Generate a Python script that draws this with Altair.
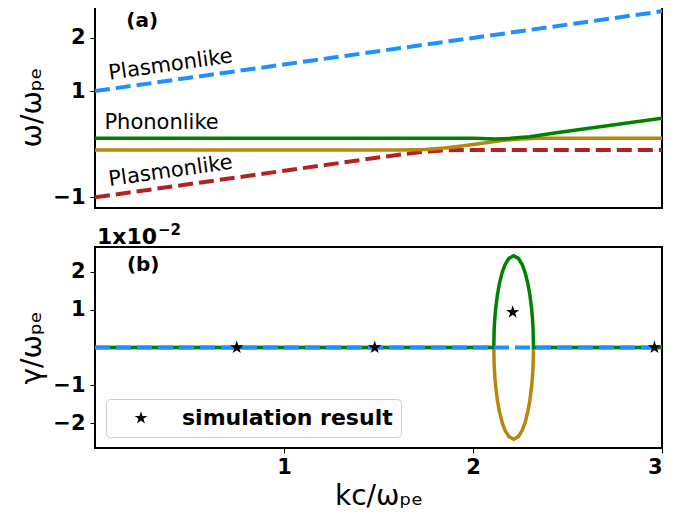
import altair as alt
import pandas as pd

# ---------------- Panel (a): real frequency ----------------
k_blue = [0.0, 3.0]
w_blue = [1.0, 2.5]

k_red = [0.0, 1.5, 1.65, 1.75, 1.85, 1.95, 3.0]
w_red = [-1.0, -0.25, -0.18, -0.14, -0.115, -0.11, -0.11]

k_gold = [0.0, 1.6, 1.75, 1.85, 1.95, 2.05, 2.15, 2.25, 2.35, 3.0]
w_gold = [-0.11, -0.11, -0.10, -0.07, -0.03, 0.02, 0.07, 0.10, 0.11, 0.11]

k_green = [0.0, 2.0, 2.12, 2.2, 2.3, 2.45, 3.0]
w_green = [0.11, 0.11, 0.10, 0.11, 0.14, 0.22, 0.49]

# ---------------- Panel (b): growth rate (x1e-2) ----------------
k_gamma = [0.0, 2.11, 2.112, 2.115, 2.12, 2.13, 2.14, 2.155, 2.17, 2.19, 2.215,
           2.24, 2.26, 2.275, 2.29, 2.30, 2.31, 2.315, 2.318, 2.32, 3.0]
g_green = [0.0, 0.0, 0.47, 0.74, 1.03, 1.42, 1.69, 1.99, 2.19, 2.35, 2.42,
           2.35, 2.19, 1.99, 1.69, 1.42, 1.03, 0.74, 0.47, 0.0, 0.0]
g_gold = [0.0, 0.0, -0.47, -0.74, -1.03, -1.42, -1.69, -1.99, -2.19, -2.35, -2.42,
          -2.35, -2.19, -1.99, -1.69, -1.42, -1.03, -0.74, -0.47, 0.0, 0.0]
k_blue_b = [0.0, 3.0]
g_blue_b = [0.0, 0.0]

k_sim = [0.75, 1.48, 2.21, 2.96]
g_sim = [0.0, 0.0, 0.93, 0.0]
sim_label = ["simulation result"] * 4

STAR = ("M0,-1L0.2245,-0.309L0.9511,-0.309L0.3633,0.118L0.5878,0.809L0,0.382"
        "L-0.5878,0.809L-0.3633,0.118L-0.9511,-0.309L-0.2245,-0.309Z")

BLUE = "#1E90FF"
RED = "#B22222"
GREEN = "#008000"
GOLD = "#B8860B"

W = 567
H_TOP = 202
H_BOT = 201

x_scale = alt.Scale(domain=[0, 3], nice=False, zero=False)
ya_scale = alt.Scale(domain=[-1.2, 2.6], nice=False, zero=False)
yb_scale = alt.Scale(domain=[-2.65, 2.65], nice=False, zero=False)


def line(k, v, color, ys, xax, yax, dash=None, width=3.5):
    df = pd.DataFrame({"k": k, "v": v})
    kw = dict(color=color, strokeWidth=width, clip=True)
    if dash:
        kw["strokeDash"] = dash
    return alt.Chart(df).mark_line(**kw).encode(
        x=alt.X("k:Q", scale=x_scale, axis=xax),
        y=alt.Y("v:Q", scale=ys, axis=yax),
    )


def label(k, v, txt, size, ys, xax, yax, weight="normal", angle=0, align="center",
          baseline="middle", dx=0, dy=0):
    df = pd.DataFrame({"k": [k], "v": [v], "t": [txt]})
    kw = dict(fontSize=size, fontWeight=weight, align=align, baseline=baseline,
              color="black", font="DejaVu Sans", dx=dx, dy=dy)
    if angle:
        kw["angle"] = angle
    return alt.Chart(df).mark_text(**kw).encode(
        x=alt.X("k:Q", scale=x_scale, axis=xax),
        y=alt.Y("v:Q", scale=ys, axis=yax),
        text="t:N")


ya_axis = alt.Axis(values=[-1, 1, 2], format="d", title="ω/ωₚₑ")

top = alt.layer(
    line(k_blue, w_blue, BLUE, ya_scale, None, ya_axis, dash=[15, 6], width=4),
    line(k_red, w_red, RED, ya_scale, None, ya_axis, dash=[15, 6], width=4),
    line(k_gold, w_gold, GOLD, ya_scale, None, ya_axis),
    line(k_green, w_green, GREEN, ya_scale, None, ya_axis),
    label(0.25, 2.32, "(a)", 20, ya_scale, None, ya_axis, weight="bold"),
    label(0.40, 1.49, "Plasmonlike", 21, ya_scale, None, ya_axis, angle=352),
    label(0.40, -0.51, "Plasmonlike", 21, ya_scale, None, ya_axis, angle=352),
    label(0.05, 0.40, "Phononlike", 21, ya_scale, None, ya_axis, align="left"),
).properties(width=W, height=H_TOP)

yb_axis = alt.Axis(values=[-2, -1, 1, 2], format="d", title="γ/ωₚₑ")
xb_axis = alt.Axis(values=[1, 2, 3], format="d", title="kc/ωₚₑ", titlePadding=5,
                   labelPadding=3)

sim_df = pd.DataFrame({"k": k_sim, "v": g_sim, "s": sim_label})
stars = alt.Chart(sim_df).mark_point(filled=True, size=190, opacity=1, color="black",
                                     strokeWidth=0).encode(
    x=alt.X("k:Q", scale=x_scale, axis=xb_axis),
    y=alt.Y("v:Q", scale=yb_scale, axis=yb_axis),
    shape=alt.Shape("s:N", scale=alt.Scale(range=[STAR]),
                    legend=alt.Legend(title=None, orient="bottom-left", offset=11,
                                      padding=8, symbolOffset=16, labelOffset=30,
                                      labelFontSize=22, labelFontWeight="bold",
                                      labelColor="black", labelLimit=0, symbolSize=180,
                                      symbolFillColor="black", symbolStrokeWidth=0,
                                      strokeColor="#cccccc", fillColor="white",
                                      cornerRadius=4)),
)

bottom = alt.layer(
    line(k_gamma, g_gold, GOLD, yb_scale, xb_axis, yb_axis),
    line(k_gamma, g_green, GREEN, yb_scale, xb_axis, yb_axis),
    line(k_blue_b, g_blue_b, BLUE, yb_scale, xb_axis, yb_axis, dash=[15, 6], width=4),
    stars,
    label(0.255, 2.17, "(b)", 20, yb_scale, xb_axis, yb_axis, weight="bold"),
    label(0.0, 2.65, "1x10", 22, yb_scale, xb_axis, yb_axis, weight="bold",
          align="left", baseline="alphabetic", dx=2, dy=-3),
    label(0.0, 2.65, "−2", 15, yb_scale, xb_axis, yb_axis, weight="bold",
          align="left", baseline="alphabetic", dx=63, dy=-12),
).properties(width=W, height=H_BOT)

chart = alt.vconcat(top, bottom, spacing=13).resolve_legend(shape="independent").properties(
    padding={"left": 9, "top": -3, "right": 5, "bottom": 0}
).configure(font="DejaVu Sans").configure_view(
    stroke="black", strokeWidth=2
).configure_axis(
    labelFontSize=21, labelFontWeight="bold", labelColor="black", labelFont="DejaVu Sans",
    tickColor="black", tickSize=5, labelPadding=5, domain=False, grid=False,
    titleFontSize=28, titleFontWeight="normal", titleColor="black", titleFont="DejaVu Sans",
    titlePadding=6
)

chart.save("out.html", embed_options={"renderer": "svg", "actions": False})
